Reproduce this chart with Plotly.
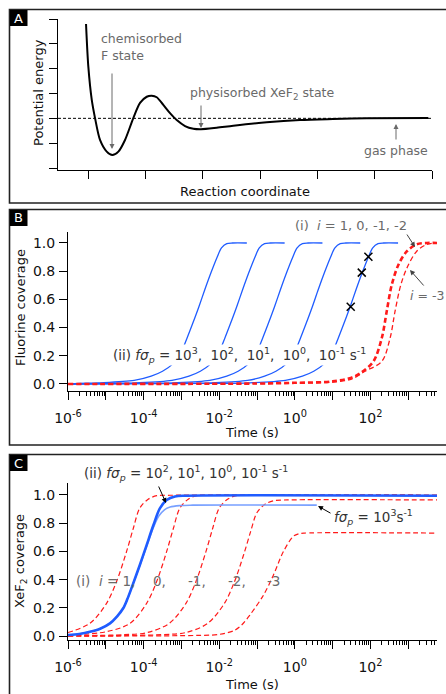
import plotly.graph_objects as go

W, H = 446, 694

# ---------------- Panel A data (reaction coordinate, potential energy) -------------
pe_x = [0.965, 1.005, 1.065, 1.122, 1.209, 1.326, 1.424, 1.529, 1.645, 1.790, 1.907, 2.024,
        2.111, 2.198, 2.313, 2.430, 2.547, 2.692, 2.837, 2.971, 3.245, 3.534, 4.117, 4.698,
        5.274, 5.861, 6.936]
pe_y = [5.80, 4.08, 2.74, 2.01, 1.13, 0.66, 0.52, 0.66, 1.13, 2.01, 2.62, 2.87,
        2.91, 2.85, 2.54, 2.21, 1.93, 1.69, 1.58, 1.56, 1.62, 1.70, 1.84, 1.93,
        1.97, 2.00, 2.01]
pe_ref_x = [0.476, 7.0]
pe_ref_y = [2.0, 2.0]
a_ticks_x = [1, 2, 3, 4, 5, 6, 7]
a_ticks_y = [0, 1, 2, 3, 4, 5, 6]

# ---------------- Panel B data (fluorine coverage) -------------
b_blue_cov = [0.0, 0.004, 0.008, 0.025, 0.055, 0.09, 0.137, 0.23, 0.326, 0.43, 0.546, 0.67,
              0.792, 0.899, 0.965, 0.995, 1.0, 1.0]
b_blue1_logt = [-6.0, -5.7, -5.2, -4.25, -3.8, -3.5, -3.25, -3.0, -2.85, -2.7, -2.54, -2.38,
                -2.214, -2.056, -1.94, -1.8, -1.65, -1.27]
b_blue2_logt = [-6.0, -5.0, -4.2, -3.25, -2.8, -2.5, -2.25, -2.0, -1.85, -1.7, -1.54, -1.38,
                -1.214, -1.056, -0.94, -0.8, -0.65, -0.27]
b_blue3_logt = [-6.0, -4.0, -3.2, -2.25, -1.8, -1.5, -1.25, -1.0, -0.85, -0.7, -0.54, -0.38,
                -0.214, -0.056, 0.06, 0.2, 0.35, 0.73]
b_blue4_logt = [-6.0, -3.0, -2.2, -1.25, -0.8, -0.5, -0.25, 0.0, 0.15, 0.3, 0.46, 0.62,
                0.786, 0.944, 1.06, 1.2, 1.35, 1.73]
b_blue5_logt = [-6.0, -2.0, -1.2, -0.25, 0.2, 0.5, 0.75, 1.0, 1.15, 1.3, 1.46, 1.62,
                1.786, 1.944, 2.06, 2.2, 2.35, 2.73]
b_cross_logt = [1.478, 1.77, 1.945]
b_cross_cov = [0.548, 0.79, 0.903]
b_red_thick_logt = [-6.0, -1.0, 0.0, 1.0, 1.5, 1.75, 2.08, 2.3, 2.43, 2.56, 2.74, 2.96, 3.22, 3.49, 3.76]
b_red_thick_cov = [0.0, 0.003, 0.008, 0.018, 0.045, 0.08, 0.16, 0.326, 0.515, 0.70, 0.846, 0.94, 0.99, 1.0, 1.0]
b_red_thin_logt = [-6.0, -1.0, 0.0, 1.0, 1.5, 1.857, 2.3, 2.52, 2.65, 2.8, 2.96, 3.22, 3.49, 3.76]
b_red_thin_cov = [0.0, 0.002, 0.006, 0.014, 0.035, 0.09, 0.16, 0.326, 0.515, 0.70, 0.82, 0.94, 0.99, 1.0]

# ---------------- Panel C data (XeF2 coverage) -------------
c_blue_thick_logt = [-6.0, -5.7, -5.42, -5.15, -4.89, -4.7, -4.54, -4.43, -4.32, -4.10, -3.92, -3.74,
                     -3.57, -3.39, -3.17, -2.86, 3.76]
c_blue_thick_cov = [0.007, 0.015, 0.03, 0.052, 0.09, 0.14, 0.197, 0.262, 0.34, 0.504, 0.645, 0.787,
                    0.905, 0.965, 0.99, 0.995, 0.995]
c_blue_light_logt = [-6.0, -5.7, -5.42, -5.15, -4.89, -4.7, -4.54, -4.43, -4.32, -4.10, -3.92, -3.74,
                     -3.6, -3.45, -3.30, -3.04, -2.7, 0.58]
c_blue_light_cov = [0.007, 0.015, 0.03, 0.052, 0.09, 0.14, 0.197, 0.262, 0.34, 0.50, 0.635, 0.77,
                    0.85, 0.895, 0.915, 0.925, 0.928, 0.928]
c_red_p1_logt = [-6.0, -5.42, -4.98, -4.71, -4.45, -4.27, -4.10, -3.88, -3.65, -3.3, 3.76]
c_red_p1_cov = [0.025, 0.09, 0.232, 0.39, 0.60, 0.766, 0.908, 0.97, 0.995, 0.998, 0.998]
c_red_0_logt = [-6.0, -5.0, -4.36, -3.92, -3.65, -3.39, -3.21, -3.04, -2.82, -2.59, -2.2, 3.76]
c_red_0_cov = [0.008, 0.03, 0.09, 0.232, 0.39, 0.60, 0.766, 0.908, 0.97, 0.995, 0.998, 0.998]
c_red_m1_logt = [-6.0, -4.5, -3.9, -3.32, -2.88, -2.61, -2.35, -2.17, -2.0, -1.78, -1.55, -1.2, 3.76]
c_red_m1_cov = [0.002, 0.01, 0.025, 0.09, 0.232, 0.39, 0.60, 0.766, 0.908, 0.97, 0.995, 0.998, 0.998]
c_red_m2_logt = [-6.0, -3.5, -2.9, -2.32, -1.88, -1.61, -1.35, -1.17, -1.0, -0.78, -0.55, -0.2, 3.76]
c_red_m2_cov = [0.0, 0.01, 0.024, 0.087, 0.224, 0.376, 0.58, 0.74, 0.876, 0.936, 0.96, 0.965, 0.965]
c_red_m3_logt = [-6.0, -3.0, -2.0, -1.6, -1.4, -1.19, -0.83, -0.57, -0.30, -0.04, 0.1, 0.25, 3.76]
c_red_m3_cov = [0.0, 0.003, 0.012, 0.04, 0.08, 0.149, 0.29, 0.43, 0.60, 0.707, 0.725, 0.73, 0.73]

time_tick_exp = [-6, -5, -4, -3, -2, -1, 0, 1, 2, 3]
time_tick_text = ["10<sup>-6</sup>", "", "10<sup>-4</sup>", "", "10<sup>-2</sup>", "",
                  "10<sup>0</sup>", "", "10<sup>2</sup>", ""]
cov_ticks = [0.0, 0.2, 0.4, 0.6, 0.8, 1.0]

# ---------------- styling -------------
FONT = "DejaVu Sans"
BLUE = "#1f5cff"
LIGHTBLUE = "#78a0ff"
RED = "#ff1a1a"
GRAY = "#6a6a6a"


def fx(p):
    return p / W


def fy(p):
    return 1 - p / H


def tt(e):
    return 10.0 ** e


fig = go.Figure()

# Panel A traces
fig.add_trace(go.Scatter(x=pe_ref_x, y=pe_ref_y, mode="lines", xaxis="x", yaxis="y",
                         line=dict(color="black", width=1, dash="3px,2px"), showlegend=False))
fig.add_trace(go.Scatter(x=pe_x, y=pe_y, mode="lines", xaxis="x", yaxis="y",
                         line=dict(color="black", width=2, shape="spline", smoothing=0.8),
                         showlegend=False))

# Panel B traces
for lt in [b_blue1_logt, b_blue2_logt, b_blue3_logt, b_blue4_logt, b_blue5_logt]:
    fig.add_trace(go.Scatter(x=[tt(v) for v in lt], y=b_blue_cov, mode="lines", xaxis="x2", yaxis="y2",
                             line=dict(color=BLUE, width=1.3, shape="spline", smoothing=0.9),
                             showlegend=False))
fig.add_trace(go.Scatter(x=[tt(v) for v in b_red_thin_logt], y=b_red_thin_cov, mode="lines",
                         xaxis="x2", yaxis="y2",
                         line=dict(color=RED, width=1.3, dash="5px,3px", shape="spline", smoothing=0.9),
                         showlegend=False))
fig.add_trace(go.Scatter(x=[tt(v) for v in b_red_thick_logt], y=b_red_thick_cov, mode="lines",
                         xaxis="x2", yaxis="y2",
                         line=dict(color=RED, width=2.6, dash="5px,3px", shape="spline", smoothing=0.9),
                         showlegend=False))
fig.add_trace(go.Scatter(x=[tt(v) for v in b_cross_logt], y=b_cross_cov, mode="markers",
                         xaxis="x2", yaxis="y2",
                         marker=dict(symbol="x-thin", size=8, line=dict(color="black", width=1.5)),
                         showlegend=False))

# Panel C traces
for lt, cv in [(c_red_p1_logt, c_red_p1_cov), (c_red_0_logt, c_red_0_cov), (c_red_m1_logt, c_red_m1_cov),
               (c_red_m2_logt, c_red_m2_cov), (c_red_m3_logt, c_red_m3_cov)]:
    fig.add_trace(go.Scatter(x=[tt(v) for v in lt], y=cv, mode="lines", xaxis="x3", yaxis="y3",
                             line=dict(color=RED, width=1.2, dash="5px,3px", shape="spline", smoothing=0.9),
                             showlegend=False))
fig.add_trace(go.Scatter(x=[tt(v) for v in c_blue_light_logt], y=c_blue_light_cov, mode="lines",
                         xaxis="x3", yaxis="y3",
                         line=dict(color=LIGHTBLUE, width=1.6, shape="spline", smoothing=0.9),
                         showlegend=False))
fig.add_trace(go.Scatter(x=[tt(v) for v in c_blue_thick_logt], y=c_blue_thick_cov, mode="lines",
                         xaxis="x3", yaxis="y3",
                         line=dict(color=BLUE, width=2.6, shape="spline", smoothing=0.9),
                         showlegend=False))

# ---------------- axes -------------
common = dict(showgrid=False, zeroline=False, showline=True, linecolor="black", linewidth=1,
              ticks="outside", tickcolor="black", tickwidth=1, automargin=False,
              tickfont=dict(family=FONT, size=14, color="#111"))

minor_vals = [m * tt(e) for e in range(-6, 4) for m in range(2, 10) if m * tt(e) <= tt(3.76)]

fig.update_layout(
    width=W, height=H, margin=dict(l=0, r=0, t=0, b=0, autoexpand=False),
    paper_bgcolor="white", plot_bgcolor="white",
    font=dict(family=FONT, size=13, color="#111"),
    xaxis=dict(common, domain=[fx(58), fx(432)], range=[0.476, 7.0], tickvals=a_ticks_x,
               showticklabels=False, ticklen=8, anchor="y"),
    yaxis=dict(common, domain=[fy(170), fy(19)], range=[-0.08, 6.0], tickvals=a_ticks_y,
               showticklabels=False, ticklen=8, anchor="x"),
    xaxis2=dict(common, type="log", domain=[fx(68), fx(437)], range=[-6, 3.76],
                tickvals=[tt(e) for e in time_tick_exp], ticktext=time_tick_text, ticklen=8,
                ticklabelstandoff=6,
                minor=dict(tickmode="array", tickvals=minor_vals, ticks="outside", ticklen=4,
                           tickcolor="black", showgrid=False),
                anchor="y2"),
    yaxis2=dict(common, domain=[fy(391), fy(232)], range=[-0.05, 1.078], tickvals=cov_ticks,
                tickformat=".1f", ticklen=8, ticklabelstandoff=1, anchor="x2"),
    xaxis3=dict(common, type="log", domain=[fx(68), fx(437)], range=[-6, 3.76],
                tickvals=[tt(e) for e in time_tick_exp], ticktext=time_tick_text, ticklen=8,
                ticklabelstandoff=6,
                minor=dict(tickmode="array", tickvals=minor_vals, ticks="outside", ticklen=4,
                           tickcolor="black", showgrid=False),
                anchor="y3"),
    yaxis3=dict(common, domain=[fy(640), fy(483)], range=[-0.028, 1.085], tickvals=cov_ticks,
                tickformat=".1f", ticklen=8, ticklabelstandoff=1, anchor="x3"),
)

# ---------------- panel frames and letters -------------
shapes = []
for (y0, y1) in [(9.5, 203), (209.5, 445), (454.5, 710)]:
    shapes.append(dict(type="rect", xref="paper", yref="paper", x0=fx(9.5), x1=fx(460),
                       y0=fy(y1), y1=fy(y0), line=dict(color="#222", width=1.6)))
for y0 in [10, 210, 455]:
    shapes.append(dict(type="rect", xref="paper", yref="paper", x0=fx(10), x1=fx(27.5),
                       y0=fy(y0 + 16), y1=fy(y0), fillcolor="black", line=dict(width=0)))
fig.update_layout(shapes=shapes)

ann = []


def text(x, y, s, size=13, color="#111", xanchor="left", yanchor="middle", angle=0, bg=None):
    d = dict(x=fx(x), y=fy(y), xref="paper", yref="paper", text=s, showarrow=False,
             xanchor=xanchor, yanchor=yanchor, textangle=angle,
             font=dict(family=FONT, size=size, color=color))
    if bg:
        d.update(bgcolor=bg, borderpad=0)
    ann.append(d)


def arrow(hx, hy, tx, ty, color=GRAY, width=1.0):
    ann.append(dict(x=fx(hx), y=fy(hy), xref="paper", yref="paper", text="", showarrow=True,
                    ax=tx - hx, ay=ty - hy, axref="pixel", ayref="pixel",
                    arrowhead=2, arrowsize=1.0, arrowwidth=width, arrowcolor=color))


for lbl, y0 in [("A", 10), ("B", 210), ("C", 455)]:
    text(18.7, y0 + 8, lbl, size=13, color="white", xanchor="center")

# Panel A text
text(38, 93, "Potential energy", size=13, angle=-90, xanchor="center")
text(245, 191, "Reaction coordinate", size=13, xanchor="center")
text(99, 39, "chemisorbed", size=12.5, color=GRAY)
text(99, 56, "F state", size=12.5, color=GRAY)
text(188, 93, "physisorbed XeF<sub>2</sub> state", size=12.5, color=GRAY)
text(362, 150, "gas phase", size=12.5, color=GRAY)
arrow(112, 149, 112, 72)
arrow(201, 128, 201, 104)
arrow(396, 124, 396, 141)

# Panel B text
text(20, 308, "Fluorine coverage", size=13, angle=-90, xanchor="center")
text(252, 432, "Time (s)", size=13, xanchor="center")
text(293, 225, "(i)  <i>i</i> = 1, 0, -1, -2", size=13, color=GRAY)
text(408, 295, "<i>i</i> = -3", size=12.5, color=GRAY)
arrow(415, 247, 406, 233, color="#444")
arrow(410, 270, 425, 287, color="#444")
text(112, 355, "(ii) <i>fσ<sub>p</sub></i> = 10<sup>3</sup>,  10<sup>2</sup>,  10<sup>1</sup>,  "
     "10<sup>0</sup>,  10<sup>-1</sup> s<sup>-1</sup>", size=13.5, color="#333", bg="white")

# Panel C text
text(20, 561, "XeF<sub>2</sub> coverage", size=13, angle=-90, xanchor="center")
text(252, 684, "Time (s)", size=13, xanchor="center")
text(82, 473, "(ii) <i>fσ<sub>p</sub></i> = 10<sup>2</sup>, 10<sup>1</sup>, 10<sup>0</sup>, "
     "10<sup>-1</sup> s<sup>-1</sup>", size=13.5, color="#333")
text(332, 517, "<i>fσ<sub>p</sub></i> = 10<sup>3</sup>s<sup>-1</sup>", size=13.5, color="#333")
arrow(166, 503, 158, 485, color="black")
arrow(318, 506, 332, 514, color="black")
text(74, 581, "(i)  <i>i</i> = 1,", size=13.5, color=GRAY)
text(159, 581, "0,", size=13.5, color=GRAY, xanchor="center")
text(197, 581, "-1,", size=13.5, color=GRAY, xanchor="center")
text(237, 581, "-2,", size=13.5, color=GRAY, xanchor="center")
text(273, 581, "-3", size=13.5, color=GRAY, xanchor="center")

fig.update_layout(annotations=ann)
fig.write_html("out.html", config={"displayModeBar": False},
               post_script="document.body.style.margin='0px';document.body.style.overflow='hidden';")
